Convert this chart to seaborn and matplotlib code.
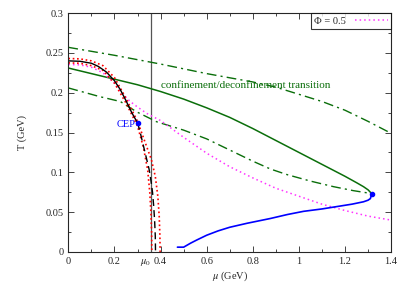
import numpy as np
import pandas as pd
import seaborn as sns
from matplotlib import pyplot as plt
from matplotlib.ticker import MultipleLocator

# chiral crossover (solid) up to the CEP
mu_chiral = [0.0, 0.05, 0.1, 0.13, 0.165, 0.2, 0.225, 0.25, 0.275, 0.30]
T_chiral = [0.240, 0.2395, 0.237, 0.233, 0.226, 0.215, 0.204, 0.190, 0.175, 0.162]

# first order line below the CEP (dashed)
mu_first = [0.30, 0.31, 0.32, 0.33, 0.34, 0.35, 0.358, 0.365, 0.37, 0.374, 0.377, 0.378]
T_first = [0.162, 0.152, 0.140, 0.128, 0.116, 0.104, 0.090, 0.075, 0.058, 0.040, 0.020, 0.0]

# red dotted bands
mu_red_out = [0.0, 0.05, 0.1, 0.15, 0.2, 0.25, 0.30, 0.33, 0.36, 0.377, 0.388, 0.394, 0.397, 0.398]
T_red_out = [0.243, 0.2425, 0.240, 0.234, 0.219, 0.193, 0.164, 0.140, 0.116, 0.095, 0.070, 0.045, 0.020, 0.0]
mu_red_in = [0.0, 0.05, 0.1, 0.15, 0.2, 0.25, 0.30, 0.325, 0.344, 0.353, 0.358, 0.361, 0.362]
T_red_in = [0.2375, 0.237, 0.234, 0.228, 0.212, 0.187, 0.158, 0.132, 0.103, 0.075, 0.050, 0.025, 0.0]

# Phi = 0.5 (magenta dotted)
mu_phi = [0.0, 0.05, 0.1, 0.15, 0.2, 0.23, 0.268, 0.3, 0.34, 0.4, 0.5, 0.6, 0.7,
          0.8, 0.9, 1.0, 1.1, 1.2, 1.3, 1.4]
T_phi = [0.2355, 0.235, 0.232, 0.225, 0.212, 0.200, 0.189, 0.182, 0.174, 0.165, 0.144, 0.124, 0.107,
         0.093, 0.080, 0.070, 0.060, 0.052, 0.045, 0.040]

# confinement/deconfinement transition (green solid) and bands (dash-dot)
mu_conf = [0.0, 0.1, 0.2, 0.3, 0.4, 0.5, 0.6, 0.7, 0.8, 0.9, 1.0, 1.1, 1.2, 1.25,
           1.28, 1.30, 1.31, 1.316]
T_conf = [0.231, 0.224, 0.217, 0.210, 0.2015, 0.192, 0.181, 0.169, 0.155, 0.140, 0.125, 0.110, 0.095, 0.087,
          0.082, 0.078, 0.075, 0.073]
mu_conf_hi = [0.0, 0.2, 0.4, 0.6, 0.8, 0.9, 1.0, 1.1, 1.2, 1.3, 1.4]
T_conf_hi = [0.257, 0.247, 0.236, 0.224, 0.2135, 0.207, 0.198, 0.189, 0.178, 0.164, 0.149]
mu_conf_lo = [0.0, 0.05, 0.137, 0.225, 0.296, 0.383, 0.5, 0.6, 0.7, 0.8, 0.878, 0.95,
              1.05, 1.15, 1.236, 1.29, 1.316]
T_conf_lo = [0.206, 0.202, 0.195, 0.189, 0.176, 0.1635, 0.153, 0.142, 0.128, 0.114, 0.104, 0.097,
             0.089, 0.082, 0.077, 0.0745, 0.073]

# blue line at low T
mu_low = [0.473, 0.50, 0.53, 0.557, 0.6, 0.65, 0.7, 0.775, 0.876, 0.95, 1.02, 1.1,
          1.165, 1.23, 1.28, 1.30, 1.31, 1.316]
T_low = [0.006, 0.006, 0.011, 0.015, 0.021, 0.0265, 0.031, 0.036, 0.042, 0.047, 0.051, 0.054,
         0.057, 0.060, 0.063, 0.065, 0.067, 0.073]

mu0 = 0.36
cep = (0.30, 0.162)
end_point = (1.316, 0.073)

xticks = [0, 0.2, mu0, 0.4, 0.6, 0.8, 1.0, 1.2, 1.4]
xticklabels = ["0", "0.2", r"$\mu_0$", "0.4", "0.6", "0.8", "1", "1.2", "1.4"]
yticks = [0, 0.05, 0.1, 0.15, 0.2, 0.25, 0.3]
yticklabels = ["0", "0.05", "0.1", "0.15", "0.2", "0.25", "0.3"]

sns.set_style("ticks")
plt.rcParams["font.family"] = ["Liberation Serif", "DejaVu Serif"]
plt.rcParams["mathtext.fontset"] = "stix"
plt.rcParams["font.size"] = 7

green = "#0a6e0a"

f = plt.figure(figsize=(4.07, 2.85), dpi=100)
ax = f.add_axes([0.168, 0.116, 0.793, 0.838])


def line(mu, T, **kw):
    df = pd.DataFrame({"mu": mu, "T": T})
    sns.lineplot(ax=ax, data=df, x="mu", y="T", sort=False, estimator=None, **kw)


ax.axvline(mu0, color="#555555", lw=0.9, zorder=1)

line(mu_conf_hi, T_conf_hi, color=green, lw=1.0, linestyle=(0, (7, 3, 1.5, 3)))
line(mu_conf_lo, T_conf_lo, color=green, lw=1.0, linestyle=(0, (7, 3, 1.5, 3)))
line(mu_conf, T_conf, color=green, lw=1.1)
line(mu_phi, T_phi, color="#ff33ff", lw=1.1, linestyle=(0, (1, 2)), label="Φ = 0.5")
line(mu_red_out, T_red_out, color="red", lw=1.2, linestyle=(0, (1, 1.6)))
line(mu_red_in, T_red_in, color="red", lw=1.2, linestyle=(0, (1, 1.6)))
line(mu_chiral, T_chiral, color="black", lw=1.0)
line(mu_first, T_first, color="black", lw=1.0, linestyle=(0, (5, 3)))
line(mu_low, T_low, color="blue", lw=1.2)

ax.plot([cep[0], end_point[0]], [cep[1], end_point[1]], "o", color="blue",
        ms=3, linestyle="none", zorder=5)
ax.text(cep[0] - 0.01, cep[1] - 0.002, "CEP", color="blue", ha="right", va="center", fontsize=7.5)
ax.text(0.40, 0.209, "confinement/deconfinement transition", color=green, ha="left",
        va="center", fontsize=8)

ax.set_xlim(0, 1.4)
ax.set_ylim(0, 0.3)
ax.set_xticks(xticks)
ax.set_xticklabels(xticklabels)
ax.get_xticklabels()[2].set_horizontalalignment("right")
ax.set_yticks(yticks)
ax.set_yticklabels(yticklabels)
ax.xaxis.set_minor_locator(MultipleLocator(0.1))
ax.yaxis.set_minor_locator(MultipleLocator(0.025))
ax.tick_params(which="both", direction="in", top=True, right=True, labelsize=7.5)
ax.tick_params(which="major", length=4, width=0.6)
ax.tick_params(which="minor", length=2, width=0.6)
for s in ax.spines.values():
    s.set_linewidth(0.8)
ax.set_xlabel(r"$\mu$ (GeV)", fontsize=7.5, labelpad=1)
ax.set_ylabel("T (GeV)", fontsize=7.5, labelpad=13)

leg = ax.legend(loc="upper right", fontsize=7.5, frameon=True, fancybox=False,
                edgecolor="black", handlelength=3.2, borderaxespad=0.0,
                markerfirst=False, borderpad=0.3)
leg.get_frame().set_linewidth(0.8)

f.savefig("out.png", dpi=100)
